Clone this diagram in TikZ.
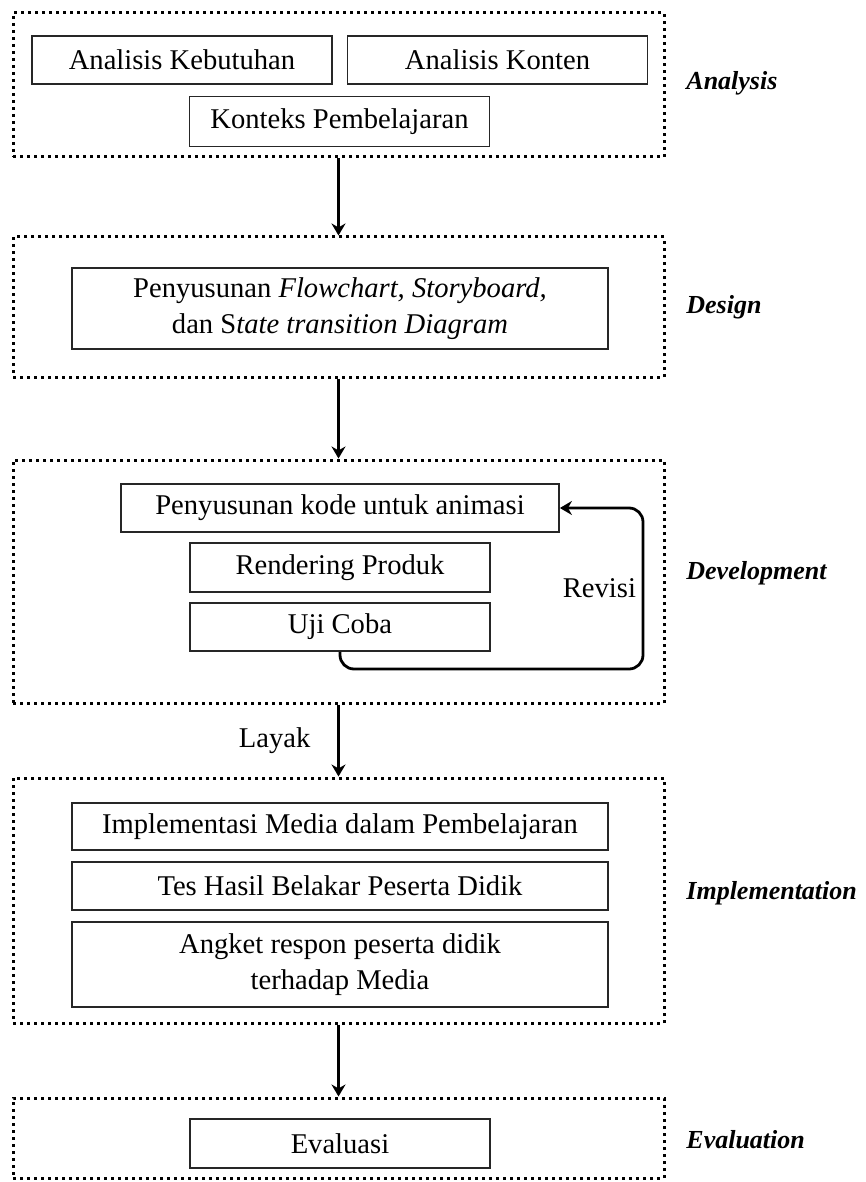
\documentclass[tikz,border=0pt]{standalone}
\usepackage{fontspec}
\setmainfont{Liberation Serif}
\usetikzlibrary{arrows.meta}

\begin{document}
\begin{tikzpicture}[x=0.5pt, y=-0.5pt,
    stage/.style={draw, line width=1.5pt, dash pattern=on 1.5pt off 2pt,
        inner sep=0pt, minimum width=325.5pt},
    box/.style={draw=black!85, line width=0.9pt, inner sep=0pt, align=center,
        font=\fontsize{14.3}{18}\selectfont},
    phase/.style={anchor=west, inner sep=0pt,
        font=\fontsize{13}{16}\selectfont\bfseries\itshape},
    flow/.style={-{Stealth[length=6pt,width=7pt]}, line width=1.4pt}]
    \useasboundingbox (0,0) rectangle (866,1182);

    % Dotted frames of the five phases
    \node[stage, minimum height=72pt]    (fA) at (338.5,85) {};
    \node[stage, minimum height=70pt]    (fD) at (338.5,307) {};
    \node[stage, minimum height=121.5pt] (fV) at (338.5,581.5) {};
    \node[stage, minimum height=122.5pt] (fI) at (338.5,900.5) {};
    \node[stage, minimum height=40pt]    (fE) at (338.5,1138) {};

    % Analysis
    \node[box, minimum width=150pt, minimum height=24pt] (kebutuhan) at (182,60) {Analisis Kebutuhan};
    \node[box, minimum width=150pt, minimum height=24pt] (konten) at (497.5,60) {Analisis Konten};
    \node[box, minimum width=150pt, minimum height=25pt] (konteks) at (339.5,121.5) {Konteks Pembelajaran};

    % Design
    \node[box, minimum width=268pt, minimum height=40.5pt] (rancang) at (340,308.5)
        {Penyusunan \textit{Flowchart, Storyboard,}\\dan S\textit{tate transition Diagram}};

    % Development
    \node[box, minimum width=219pt, minimum height=24pt] (kode) at (340,508) {Penyusunan kode untuk animasi};
    \node[box, minimum width=150pt, minimum height=24.5pt] (render) at (340,567.5) {Rendering Produk};
    \node[box, minimum width=150pt, minimum height=24pt] (ujicoba) at (340,627) {Uji Coba};
    \coordinate (putar) at (643,669);
    \draw[flow, rounded corners=7pt] (ujicoba.south) |- (putar) -- (putar |- kode.east) -- (kode.east);
    \node[anchor=east] (revisi) at (643,588) {\fontsize{14.3}{18}\selectfont Revisi};

    % Implementation
    \node[box, minimum width=268pt, minimum height=23.5pt] (terap) at (340,826.5) {Implementasi Media dalam Pembelajaran};
    \node[box, minimum width=268pt, minimum height=24pt] (tes) at (340,886) {Tes Hasil Belakar Peserta Didik};
    \node[box, minimum width=268pt, minimum height=42.5pt] (angket) at (340,964.5)
        {Angket respon peserta didik\\terhadap Media};

    % Evaluation
    \node[box, minimum width=150pt, minimum height=24.5pt] (evaluasi) at (340,1143.5) {Evaluasi};

    % Flow between phases
    \draw[flow] (fA) -- (fD);
    \draw[flow] (fD) -- (fV);
    \draw[flow] (fV) -- node[midway, left=10pt, font=\fontsize{14.3}{18}\selectfont] (layak) {Layak} (fI);
    \draw[flow] (fI) -- (fE);

    % Phase names
    \node[phase] (lA) at (686,83) {Analysis};
    \node[phase] (lD) at (686,307) {Design};
    \node[phase] (lV) at (686,573) {Development};
    \node[phase] (lI) at (686,893) {Implementation};
    \node[phase] (lE) at (686,1140) {Evaluation};
\end{tikzpicture}
\end{document}
